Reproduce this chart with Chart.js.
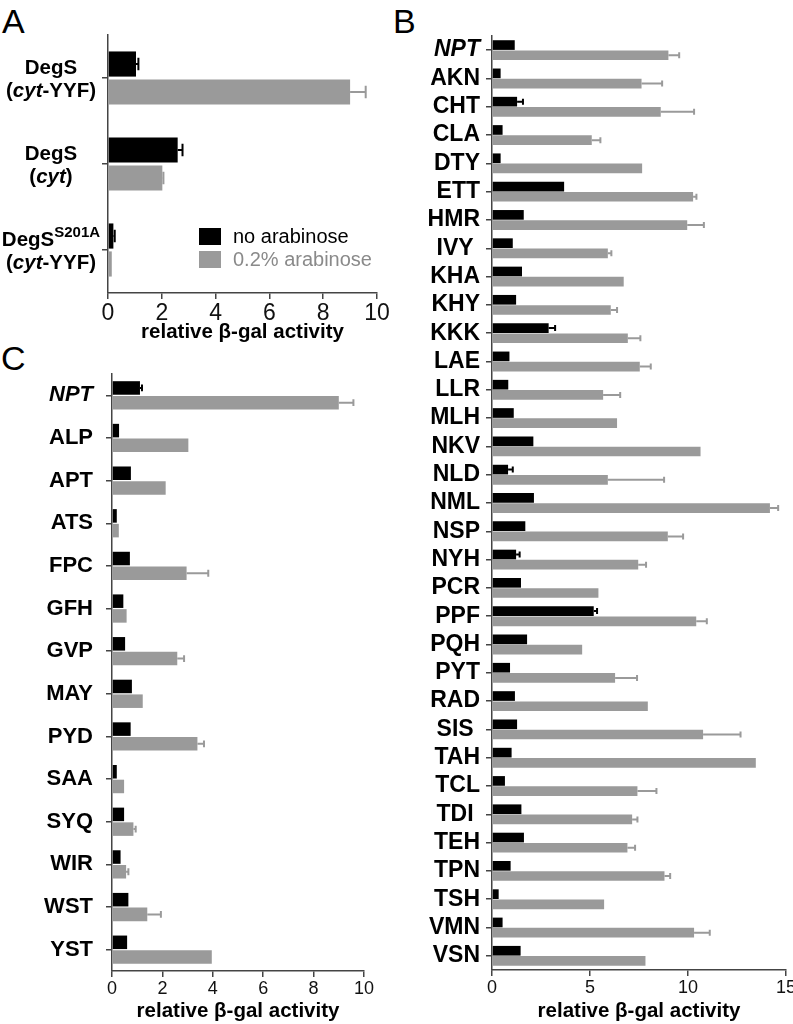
<!DOCTYPE html>
<html>
<head>
<meta charset="utf-8">
<script src="https://cdn.jsdelivr.net/npm/chart.js@4/dist/chart.umd.min.js"></script>
<style>
  body { margin: 0; width: 793px; height: 1024px; overflow: hidden; background: #fff; position: relative; }
  canvas { position: absolute; }
  .panel { position: absolute; font-family: 'Liberation Sans', Arial, sans-serif; font-size: 34px; line-height: 34px; color: #000; }
</style>
</head>
<body>
<div class="panel" style="left:2px;top:4px">A</div>
<div class="panel" style="left:393px;top:4px">B</div>
<div class="panel" style="left:1px;top:341px">C</div>
<canvas id="chartA" width="400" height="345" style="left:0;top:0"></canvas>
<canvas id="chartB" width="400" height="1024" style="left:400px;top:0"></canvas>
<canvas id="chartC" width="400" height="684" style="left:0;top:340px"></canvas>
<script>
// ---- data ----
// panel A
const catsA = ["DegS (cyt-YYF)", "DegS (cyt)", "DegS S201A (cyt-YYF)"];
const noAraA = [1.04, 2.59, 0.2];
const noAraErrA = [0.09, 0.18, 0.05];
const araA = [9.0, 2.02, 0.14];
const araErrA = [0.58, 0.04, 0];

// panel B
const catsB = ["NPT", "AKN", "CHT", "CLA", "DTY", "ETT", "HMR", "IVY ", "KHA", "KHY", "KKK",
  "LAE", "LLR", "MLH", "NKV", "NLD", "NML", "NSP", "NYH", "PCR", "PPF", "PQH", "PYT",
  "RAD", "SIS ", "TAH", "TCL", "TDI ", "TEH", "TPN", "TSH", "VMN", "VSN"];
const noAraB = [1.16, 0.44, 1.28, 0.54, 0.44, 3.68, 1.62, 1.06, 1.53, 1.23, 2.89,
  0.89, 0.83, 1.11, 2.11, 0.82, 2.14, 1.7, 1.23, 1.48, 5.19, 1.79, 0.92,
  1.17, 1.28, 1.0, 0.66, 1.5, 1.63, 0.95, 0.34, 0.54, 1.46];
const noAraErrB = [0, 0, 0.3, 0, 0, 0, 0, 0, 0, 0, 0.33,
  0, 0, 0, 0, 0.24, 0, 0, 0.18, 0, 0.17, 0, 0,
  0, 0, 0, 0, 0, 0, 0, 0, 0, 0];
const araB = [9.0, 7.63, 8.61, 5.09, 7.66, 10.26, 9.96, 5.91, 6.72, 6.06, 6.93,
  7.54, 5.67, 6.38, 10.64, 5.91, 14.18, 8.97, 7.46, 5.43, 10.42, 4.6, 6.28,
  7.95, 10.77, 13.46, 7.42, 7.15, 6.91, 8.8, 5.72, 10.31, 7.83];
const araErrB = [0.55, 1.05, 1.7, 0.44, 0, 0.17, 0.85, 0.18, 0, 0.32, 0.64,
  0.56, 0.87, 0, 0, 2.87, 0.42, 0.78, 0.4, 0, 0.54, 0, 1.12,
  0, 1.91, 0, 0.97, 0.27, 0.39, 0.29, 0, 0.8, 0];

// panel C
const catsC = ["NPT", "ALP", "APT", "ATS", "FPC", "GFH", "GVP", "MAY", "PYD", "SAA", "SYQ", "WIR", "WST", "YST"];
const noAraC = [1.11, 0.28, 0.75, 0.19, 0.71, 0.45, 0.52, 0.79, 0.74, 0.19, 0.48, 0.34, 0.65, 0.6];
const noAraErrC = [0.08, 0, 0, 0, 0, 0, 0, 0, 0, 0, 0, 0, 0, 0];
const araC = [9.0, 3.03, 2.13, 0.27, 2.96, 0.58, 2.59, 1.22, 3.39, 0.48, 0.85, 0.56, 1.4, 3.96];
const araErrC = [0.58, 0, 0, 0, 0.86, 0, 0.27, 0, 0.26, 0, 0.09, 0.09, 0.54, 0];

const seriesNames = ["no arabinose", "0.2% arabinose"];
const ticksA = [0, 2, 4, 6, 8, 10];
const ticksB = [0, 5, 10, 15];
const axisTitle = "relative \u03b2-gal activity";

const FONT = "'Liberation Sans', Arial, sans-serif";
const BLACK = "#000000";
const GREY = "#9a9a9a";
const AXIS = "#444444";
Chart.defaults.font.family = FONT;
Chart.defaults.color = "#000";

// one-sided error bars, drawn from the bar end
const errorBars = {
  id: "errorBars",
  afterDatasetsDraw(chart) {
    const ctx = chart.ctx;
    const xs = chart.scales.x;
    chart.data.datasets.forEach((ds, di) => {
      const meta = chart.getDatasetMeta(di);
      meta.data.forEach((bar, i) => {
        const e = ds.errors ? ds.errors[i] : 0;
        if (!e) return;
        const x1 = xs.getPixelForValue(ds.data[i] + e);
        const cap = Math.max(3, bar.height * 0.25);
        ctx.save();
        ctx.strokeStyle = ds.backgroundColor;
        ctx.lineWidth = 2;
        ctx.beginPath();
        ctx.moveTo(bar.x, bar.y);
        ctx.lineTo(x1, bar.y);
        ctx.moveTo(x1, bar.y - cap);
        ctx.lineTo(x1, bar.y + cap);
        ctx.stroke();
        ctx.restore();
      });
    });
  }
};

function makeDatasets(a, aErr, b, bErr, catPct, barPct) {
  return [
    { label: seriesNames[0], data: a, errors: aErr, backgroundColor: BLACK,
      categoryPercentage: catPct, barPercentage: barPct },
    { label: seriesNames[1], data: b, errors: bErr, backgroundColor: GREY,
      categoryPercentage: catPct, barPercentage: barPct },
  ];
}

function xAxis(max, tickSize, labels, height) {
  return {
    min: 0, max: max,
    afterBuildTicks: (s) => { s.ticks = labels.map((v) => ({ value: v })); },
    afterFit: (s) => { s.height = height; },
    border: { display: true, color: AXIS, width: 1.5 },
    grid: { drawOnChartArea: false, drawTicks: true, tickLength: 6, color: AXIS, lineWidth: 1.5 },
    ticks: { padding: 1, color: "#111", font: { size: tickSize } },
    title: { display: true, text: axisTitle, color: "#000", padding: { top: 0, bottom: 0 },
      font: { size: 20.5, weight: "bold" } },
  };
}

function yAxis(width, showLabels, labelSize, labelPad) {
  return {
    afterFit: (s) => { s.width = width; },
    border: { display: true, color: AXIS, width: 1.5 },
    grid: { drawOnChartArea: false, drawTicks: true, tickLength: 6, offset: false, color: AXIS, lineWidth: 1.5 },
    ticks: {
      display: showLabels,
      autoSkip: false,
      padding: labelPad,
      color: "#000",
      font: (c) => ({
        family: FONT, size: labelSize, weight: "bold",
        style: c.tick && c.tick.label === "NPT" ? "italic" : "normal",
      }),
    },
  };
}

// ---- panel A: two-line labels with italics / superscript, legend inside ----
const labelLinesA = [
  [[{ t: "DegS" }], [{ t: "(" }, { t: "cyt", i: true }, { t: "-YYF)" }]],
  [[{ t: "DegS" }], [{ t: "(" }, { t: "cyt", i: true }, { t: ")" }]],
  [[{ t: "DegS" }, { t: "S201A", sup: true }], [{ t: "(" }, { t: "cyt", i: true }, { t: "-YYF)" }]],
];

function segFont(s) {
  const size = s.sup ? 15 : 20.5;
  return (s.i ? "italic " : "") + "bold " + size + "px " + FONT;
}

const labelsA = {
  id: "labelsA",
  afterDraw(chart) {
    const ctx = chart.ctx;
    const ys = chart.scales.y;
    ctx.save();
    ctx.fillStyle = "#000";
    ctx.textBaseline = "middle";
    ctx.textAlign = "left";
    labelLinesA.forEach((lines, i) => {
      const yc = ys.getPixelForTick(i) + 1.5;
      lines.forEach((segs, li) => {
        let w = 0;
        segs.forEach((s) => { ctx.font = segFont(s); w += ctx.measureText(s.t).width; });
        let x = 51 - w / 2;
        const y = yc + (li === 0 ? -11.5 : 11.5);
        segs.forEach((s) => {
          ctx.font = segFont(s);
          ctx.fillText(s.t, x, s.sup ? y - 7 : y);
          x += ctx.measureText(s.t).width;
        });
      });
    });
    // legend
    const colors = [BLACK, GREY];
    const textColors = ["#000", "#8a8a8a"];
    ctx.font = "20px " + FONT;
    seriesNames.forEach((name, k) => {
      const top = 228 + k * 23;
      ctx.fillStyle = colors[k];
      ctx.fillRect(199, top, 22, 17);
      ctx.fillStyle = textColors[k];
      ctx.fillText(name, 233, top + 9);
    });
    ctx.restore();
  }
};

const chartA = new Chart(document.querySelector("#chartA"), {
  type: "bar",
  data: { labels: catsA, datasets: makeDatasets(noAraA, noAraErrA, araA, araErrA, 0.65, 0.9) },
  options: {
    indexAxis: "y",
    responsive: false,
    animation: false,
    layout: { padding: { top: 35, right: 23, left: 0, bottom: 0 } },
    scales: { x: xAxis(10, 23, ticksA, 52), y: yAxis(108, false, 20, 6) },
    plugins: { legend: { display: false }, tooltip: { enabled: false } },
  },
  plugins: [errorBars, labelsA],
});

// ---- panel B ----
const chartB = new Chart(document.querySelector("#chartB"), {
  type: "bar",
  data: { labels: catsB, datasets: makeDatasets(noAraB, noAraErrB, araB, araErrB, 0.72, 0.95) },
  options: {
    indexAxis: "y",
    responsive: false,
    animation: false,
    layout: { padding: { top: 36, right: 14, left: 0, bottom: 0 } },
    scales: { x: xAxis(15, 18, ticksB, 54), y: yAxis(92, true, 23, 6) },
    plugins: { legend: { display: false }, tooltip: { enabled: false } },
  },
  plugins: [errorBars],
});

// ---- panel C ----
const chartC = new Chart(document.querySelector("#chartC"), {
  type: "bar",
  data: { labels: catsC, datasets: makeDatasets(noAraC, noAraErrC, araC, araErrC, 0.69, 0.92) },
  options: {
    indexAxis: "y",
    responsive: false,
    animation: false,
    layout: { padding: { top: 34, right: 36, left: 0, bottom: 0 } },
    scales: { x: xAxis(10, 18, ticksA, 53), y: yAxis(112, true, 22, 13) },
    plugins: { legend: { display: false }, tooltip: { enabled: false } },
  },
  plugins: [errorBars],
});
</script>
</body>
</html>
